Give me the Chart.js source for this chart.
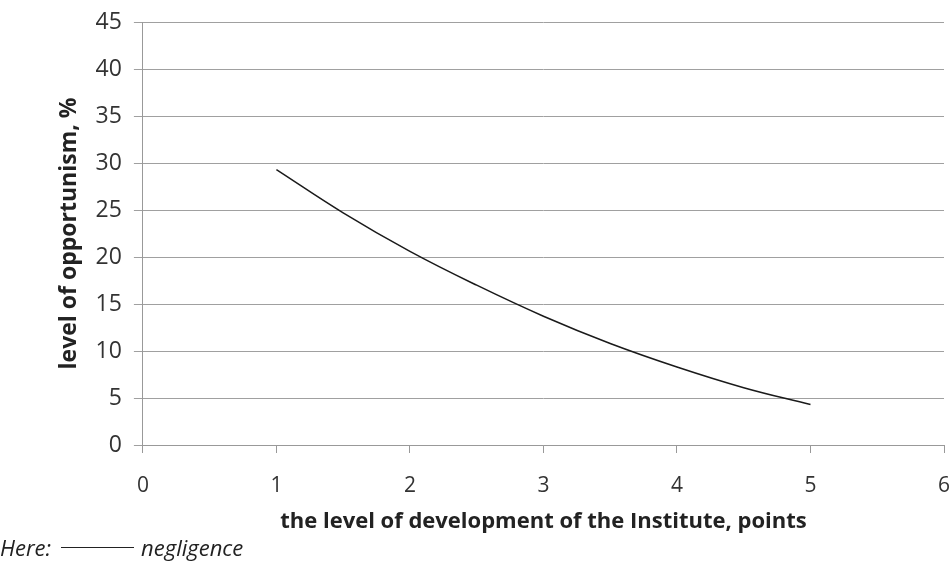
<!DOCTYPE html>
<html>
<head>
<meta charset="utf-8">
<script src="https://cdn.jsdelivr.net/npm/chart.js@4"></script>
<style>
  html, body { margin: 0; padding: 0; background: #fff; }
  #wrap { position: relative; width: 952px; height: 566px; }
  #legend {
    position: absolute; left: 0px; top: 534px;
    font-family: "Open Sans", sans-serif; font-style: italic; font-size: 22px; line-height: 26px; color: #222;
    display: flex; align-items: center;
  }
  #legend .sample { display: inline-block; width: 73px; border-top: 1.5px solid #222; margin: 0 7px 0 10px; }
</style>
</head>
<body>
<div id="wrap">
  <canvas id="chart" width="952" height="566"></canvas>
  <div id="legend">Here:<span class="sample"></span>negligence</div>
</div>
<script>
// level of development (points) and level of opportunism (%)
const devLevel = [1, 1.5, 2, 2.5, 3, 3.5, 4, 4.5, 5];
const opportunism = [29.3, 24.7, 20.6, 17.0, 13.7, 10.8, 8.3, 6.1, 4.3];

const xTitle = 'the level of development of the Institute, points';
const yTitle = 'level of opportunism, %';

const points = devLevel.map((x, i) => ({ x: x, y: opportunism[i] }));

const ctx = document.getElementById('chart').getContext('2d');
new Chart(ctx, {
  type: 'scatter',
  data: {
    datasets: [{
      label: 'negligence',
      data: points,
      showLine: true,
      borderColor: '#1a1a1a',
      borderWidth: 1.5,
      pointRadius: 0,
      tension: 0.4,
      fill: false
    }]
  },
  options: {
    responsive: false,
    animation: false,
    layout: { padding: { left: 46, right: 8, top: 22, bottom: 33 } },
    plugins: { legend: { display: false }, tooltip: { enabled: false } },
    scales: {
      x: {
        type: 'linear',
        min: 0, max: 6,
        afterFit: (scale) => { scale.paddingRight = 0; },
        ticks: { stepSize: 1, color: '#333', padding: 23, font: { family: 'Open Sans', size: 21, lineHeight: 1 } },
        grid: { drawOnChartArea: false, drawTicks: true, tickLength: 8, color: '#999' },
        border: { color: '#999' },
        title: { display: true, text: xTitle, color: '#222', padding: { top: -9, bottom: 0 },
                 font: { family: 'Open Sans', size: 22, weight: 'bold', lineHeight: 1 } }
      },
      y: {
        min: 0, max: 45,
        afterFit: (scale) => { scale.paddingTop = 0; },
        ticks: { stepSize: 5, color: '#333', padding: 12, font: { family: 'Open Sans', size: 23 } },
        grid: { color: '#a0a0a0', tickLength: 9 },
        border: { color: '#999' },
        title: { display: true, text: yTitle, color: '#222', padding: { top: 10, bottom: 0 },
                 font: { family: 'Open Sans', size: 23, weight: 'bold' } }
      }
    }
  }
});
</script>
</body>
</html>
